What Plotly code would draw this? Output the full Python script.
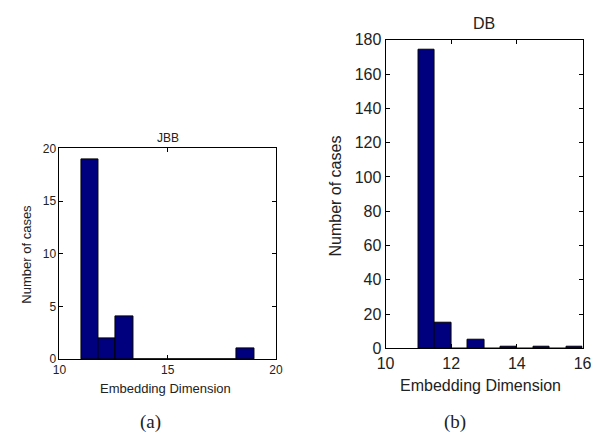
import plotly.graph_objects as go

# Histogram of embedding dimensions, JBB set (10 bins between 11 and 19)
jbb_edges = [11.0, 11.8, 12.6, 13.4, 14.2, 15.0, 15.8, 16.6, 17.4, 18.2, 19.0]
jbb_counts = [19, 2, 4, 0, 0, 0, 0, 0, 0, 1]
jbb_xticks = [10, 15, 20]
jbb_yticks = [0, 5, 10, 15, 20]

# Histogram of embedding dimensions, DB set (10 bins between 11 and 16)
db_edges = [11.0, 11.5, 12.0, 12.5, 13.0, 13.5, 14.0, 14.5, 15.0, 15.5, 16.0]
db_counts = [174, 15, 0, 5, 0, 1, 0, 1, 0, 1]
db_xticks = [10, 12, 14, 16]
db_yticks = [0, 20, 40, 60, 80, 100, 120, 140, 160, 180]

BAR_FILL = "#00007f"
SANS = "Arial, Liberation Sans, Helvetica, sans-serif"
SERIF = "Times New Roman, Liberation Serif, serif"
W, H = 609, 443


def centers(edges):
    return [(a + b) / 2 for a, b in zip(edges[:-1], edges[1:])]


def widths(edges):
    return [b - a for a, b in zip(edges[:-1], edges[1:])]


def px_x(v):
    return v / W


def px_y(v):
    return 1 - v / H


fig = go.Figure()

fig.add_trace(go.Bar(
    x=centers(jbb_edges), y=jbb_counts, width=widths(jbb_edges),
    marker=dict(color=BAR_FILL, line=dict(color="black", width=1)),
    xaxis="x", yaxis="y", showlegend=False, hoverinfo="x+y",
))
fig.add_trace(go.Bar(
    x=centers(db_edges), y=db_counts, width=widths(db_edges),
    marker=dict(color=BAR_FILL, line=dict(color="black", width=1)),
    xaxis="x2", yaxis="y2", showlegend=False, hoverinfo="x+y",
))


def axis_style(size, **kw):
    d = dict(
        showline=True, linecolor="black", linewidth=1, mirror="ticks",
        ticks="inside", ticklen=4, tickcolor="black",
        showgrid=False, zeroline=False,
        tickfont=dict(family=SANS, size=size, color="#222"),
    )
    d.update(kw)
    return d


# panel (a)
ax1 = [52, 275]
ay1 = [146, 365]
# panel (b)
ax2 = [388, 591]
ay2 = [33, 354]

fig.update_layout(
    width=W, height=H,
    margin=dict(l=0, r=0, t=0, b=0),
    paper_bgcolor="white", plot_bgcolor="white",
    bargap=0,
    xaxis=axis_style(12, domain=[px_x(ax1[0]), px_x(ax1[1])], range=[10, 20],
                     tickvals=jbb_xticks, anchor="y"),
    yaxis=axis_style(12, domain=[px_y(ay1[1]), px_y(ay1[0])], range=[0, 20],
                     tickvals=jbb_yticks, anchor="x"),
    xaxis2=axis_style(16, domain=[px_x(ax2[0]), px_x(ax2[1])], range=[10, 16],
                      tickvals=db_xticks, anchor="y2"),
    yaxis2=axis_style(16, domain=[px_y(ay2[1]), px_y(ay2[0])], range=[0, 180],
                      tickvals=db_yticks, anchor="x2"),
)

annotations = [
    # titles
    dict(text="JBB", x=px_x(163.5), y=px_y(135), size=12, family=SANS),
    dict(text="DB", x=px_x(489), y=px_y(16), size=16, family=SANS),
    # x axis labels
    dict(text="Embedding Dimension", x=px_x(161), y=px_y(396), size=13, family=SANS),
    dict(text="Embedding Dimension", x=px_x(486), y=px_y(393), size=16, family=SANS),
    # captions
    dict(text="(a)", x=px_x(146), y=px_y(431), size=19, family=SERIF),
    dict(text="(b)", x=px_x(460), y=px_y(431), size=19, family=SERIF),
]
for a in annotations:
    fig.add_annotation(
        text=a["text"], x=a["x"], y=a["y"], xref="paper", yref="paper",
        xanchor="center", yanchor="middle", showarrow=False,
        font=dict(family=a["family"], size=a["size"], color="#222"),
    )

# y axis labels (rotated)
for text, x, y, size in [("Number of cases", 18, 256, 13),
                         ("Number of cases", 336, 196, 16)]:
    fig.add_annotation(
        text=text, x=px_x(x), y=px_y(y), xref="paper", yref="paper",
        xanchor="center", yanchor="middle", showarrow=False, textangle=-90,
        font=dict(family=SANS, size=size, color="#222"),
    )

fig.write_html("out.html")
